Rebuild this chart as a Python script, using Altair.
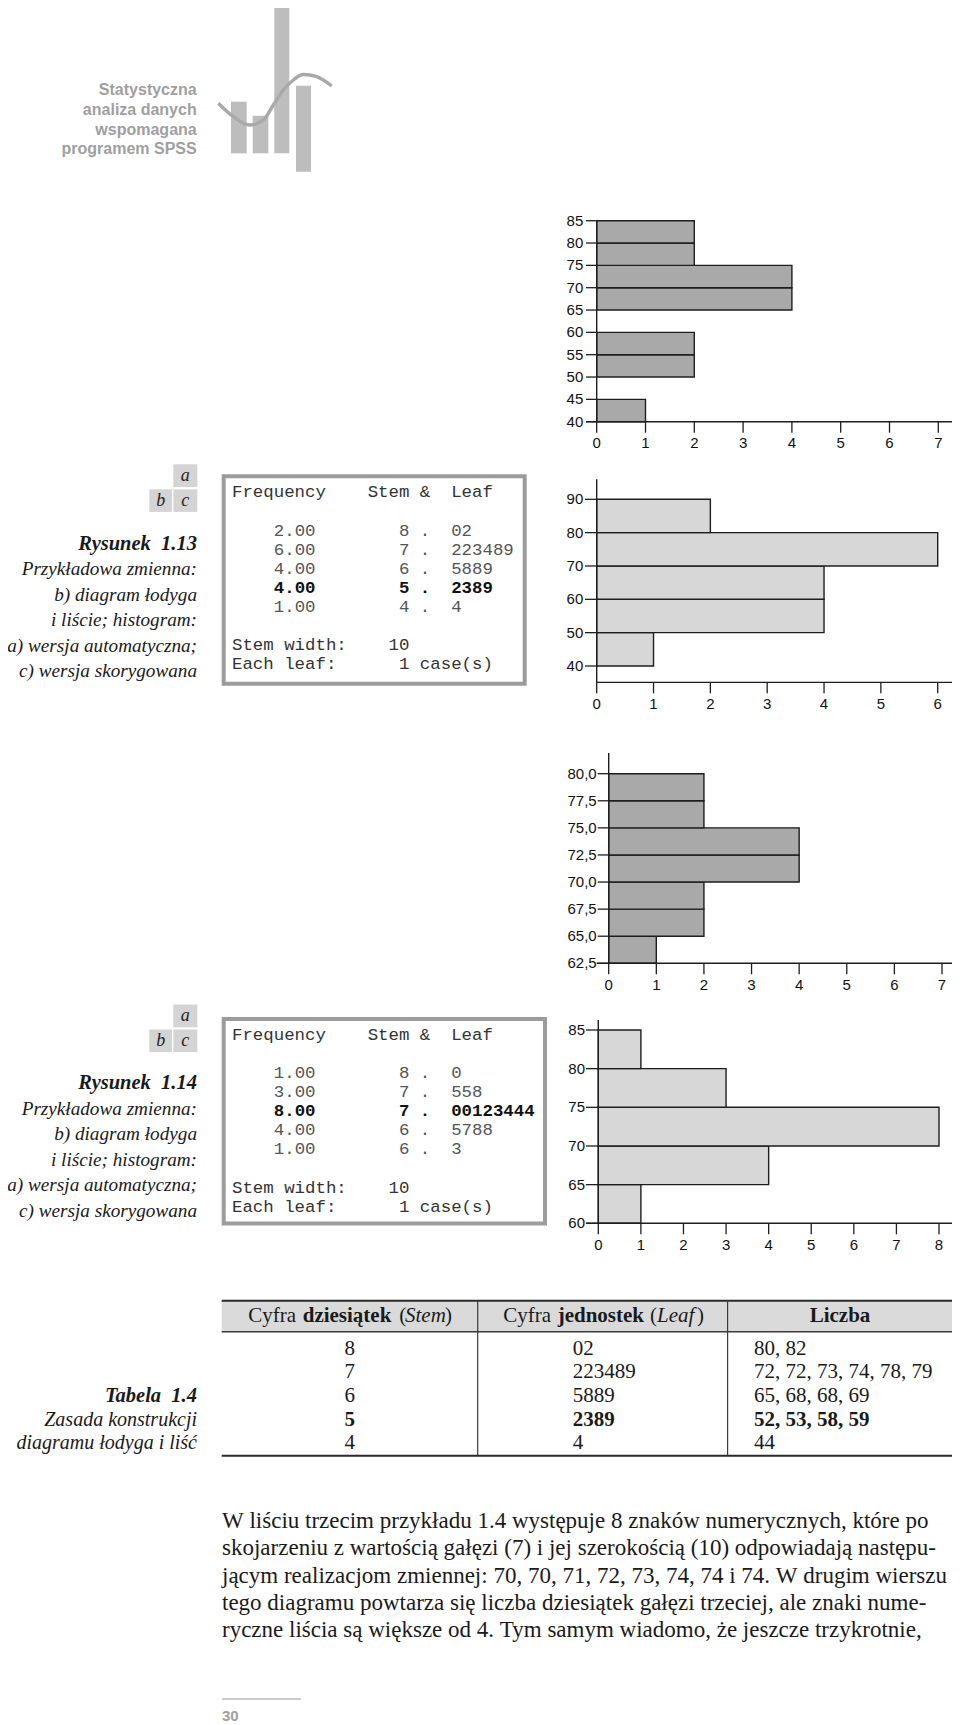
import altair as alt
import pandas as pd

NB = "\u00a0"

# ------------------------------------------------------------------ data
header_lines = ["Statystyczna", "analiza danych", "wspomagana", "programem SPSS"]

fig_caption = ["Przykładowa zmienna:", "b) diagram łodyga", "i liście; histogram:",
               "a) wersja automatyczna;", "c) wersja skorygowana"]
fig13_title = "Rysunek  1.13"
fig14_title = "Rysunek  1.14"
panel_letters = ["a", "b", "c"]

stem_header = "Frequency    Stem &  Leaf"
stem_footer = ["Stem width:    10", "Each leaf:      1 case(s)"]
f13_freq = ["2.00", "6.00", "4.00", "4.00", "1.00"]
f13_stem = ["8", "7", "6", "5", "4"]
f13_leaf = ["02", "223489", "5889", "2389", "4"]
f13_bold = [False, False, False, True, False]
f14_freq = ["1.00", "3.00", "8.00", "4.00", "1.00"]
f14_stem = ["8", "7", "7", "6", "6"]
f14_leaf = ["0", "558", "00123444", "5788", "3"]
f14_bold = [False, False, True, False, False]

# Rysunek 1.13 a) - automatic histogram
h1_lo = [40, 50, 55, 65, 70, 75, 80]
h1_hi = [45, 55, 60, 70, 75, 80, 85]
h1_n = [1, 2, 2, 4, 4, 2, 2]
h1_yticks = [40, 45, 50, 55, 60, 65, 70, 75, 80, 85]
h1_ylabels = ["40", "45", "50", "55", "60", "65", "70", "75", "80", "85"]
h1_xticks = [0, 1, 2, 3, 4, 5, 6, 7]
# Rysunek 1.13 c) - corrected histogram
h2_lo = [40, 50, 60, 70, 80]
h2_hi = [50, 60, 70, 80, 90]
h2_n = [1, 4, 4, 6, 2]
h2_yticks = [40, 50, 60, 70, 80, 90]
h2_ylabels = ["40", "50", "60", "70", "80", "90"]
h2_xticks = [0, 1, 2, 3, 4, 5, 6]
# Rysunek 1.14 a)
h3_lo = [62.5, 65.0, 67.5, 70.0, 72.5, 75.0, 77.5]
h3_hi = [65.0, 67.5, 70.0, 72.5, 75.0, 77.5, 80.0]
h3_n = [1, 2, 2, 4, 4, 2, 2]
h3_yticks = [62.5, 65.0, 67.5, 70.0, 72.5, 75.0, 77.5, 80.0]
h3_ylabels = ["62,5", "65,0", "67,5", "70,0", "72,5", "75,0", "77,5", "80,0"]
h3_xticks = [0, 1, 2, 3, 4, 5, 6, 7]
# Rysunek 1.14 c)
h4_lo = [60, 65, 70, 75, 80]
h4_hi = [65, 70, 75, 80, 85]
h4_n = [1, 4, 8, 3, 1]
h4_yticks = [60, 65, 70, 75, 80, 85]
h4_ylabels = ["60", "65", "70", "75", "80", "85"]
h4_xticks = [0, 1, 2, 3, 4, 5, 6, 7, 8]

# Tabela 1.4
table_stem = ["8", "7", "6", "5", "4"]
table_leaf = ["02", "223489", "5889", "2389", "4"]
table_num = ["80, 82", "72, 72, 73, 74, 78, 79", "65, 68, 68, 69", "52, 53, 58, 59", "44"]
table_bold = [False, False, False, True, False]
table_caption = ["Tabela  1.4", "Zasada konstrukcji", "diagramu łodyga i liść"]
hdr1 = ["Cyfra", "dziesiątek", "(", "Stem", ")"]
hdr2 = ["Cyfra", "jednostek", "(", "Leaf", ")"]
hdr3 = "Liczba"

paragraph = [
    "W liściu trzecim przykładu 1.4 występuje 8 znaków numerycznych, które po",
    "skojarzeniu z wartością gałęzi (7) i jej szerokością (10) odpowiadają następu-",
    "jącym realizacjom zmiennej: 70, 70, 71, 72, 73, 74, 74 i 74. W drugim wierszu",
    "tego diagramu powtarza się liczba dziesiątek gałęzi trzeciej, ale znaki nume-",
    "ryczne liścia są większe od 4. Tym samym wiadomo, że jeszcze trzykrotnie,",
]
page_number = "30"

# ------------------------------------------------------------------ layout (screen px)
W, H = 944, 1717
PX = alt.Scale(domain=[8, 8 + W], range=[0, W], nice=False, zero=False)
PY = alt.Scale(domain=[8, 8 + H], range=[0, H], nice=False, zero=False)
SERIF = "Liberation Serif"
SANS = "Liberation Sans"
MONO = "Liberation Mono"
INK = "#1a1a1a"


def nb(s):
    return s.replace(" ", NB)


def text_layer(xs, ys, texts, **mk):
    df = pd.DataFrame({"x": xs, "y": ys, "t": [nb(t) for t in texts]})
    props = dict(baseline="middle", align="left", font=SERIF, fontSize=20, color=INK)
    props.update(mk)
    return alt.Chart(df).mark_text(**props).encode(
        x=alt.X("x:Q", scale=PX, axis=None),
        y=alt.Y("y:Q", scale=PY, axis=None),
        text="t:N",
    )


def rect_layer(x1, y1, x2, y2, **mk):
    df = pd.DataFrame({"x": x1, "y": y1, "x2": x2, "y2": y2})
    return alt.Chart(df).mark_rect(**mk).encode(
        x=alt.X("x:Q", scale=PX, axis=None), x2="x2:Q",
        y=alt.Y("y:Q", scale=PY, axis=None), y2="y2:Q",
    )


def rule_layer(x1, y1, x2, y2, **mk):
    df = pd.DataFrame({"x": x1, "y": y1, "x2": x2, "y2": y2})
    return alt.Chart(df).mark_rule(**mk).encode(
        x=alt.X("x:Q", scale=PX, axis=None), x2="x2:Q",
        y=alt.Y("y:Q", scale=PY, axis=None), y2="y2:Q",
    )


page = []

# --- header logo
page.append(text_layer([196.7] * 4, [90, 110, 130, 149], header_lines,
                       align="right", font=SANS, fontWeight="bold", fontSize=16, color="#9f9f9f"))
page.append(rect_layer([231, 252.7, 274.3, 296], [101.7, 115.7, 0, 85.7],
                       [246.7, 268.3, 289.3, 311], [153.3, 153.3, 153.3, 171.7], fill="#bdbdbd"))
curve_x = [218.3, 233.3, 250, 263.3, 273.3, 283.3, 293.3, 303.3, 316.7, 331.7]
curve_y = [103.3, 116.7, 125, 120, 105, 90, 80, 74.5, 76.7, 86]
page.append(alt.Chart(pd.DataFrame({"x": curve_x, "y": curve_y})).mark_line(
    interpolate="monotone", stroke="#a9a9a9", strokeWidth=3.4).encode(
    x=alt.X("x:Q", scale=PX, axis=None), y=alt.Y("y:Q", scale=PY, axis=None)))

# --- panel letter squares + captions for both figures
for top, cap_y0 in [(464.3, 543.5), (1004.5, 1083)]:
    mid = top + 25
    page.append(rect_layer([173.3, 149.3, 173.3], [top, mid, mid],
                           [197.3, 172, 197.3], [top + 22.8, mid + 22.6, mid + 22.6], fill="#d4d4d4"))
    page.append(text_layer([185.3, 160.7, 185.3], [top + 11.4, mid + 11.3, mid + 11.3], panel_letters,
                           align="center", fontStyle="italic", fontSize=18, color="#222"))
    title = fig13_title if top < 800 else fig14_title
    page.append(text_layer([197], [cap_y0], [title], align="right", fontStyle="italic",
                           fontWeight="bold", fontSize=20.5))
    page.append(text_layer([197] * 5, [cap_y0 + 25.5 * (i + 1) for i in range(5)], fig_caption,
                           align="right", fontStyle="italic", fontSize=19.2))


# --- stem & leaf boxes (monospace columns)
MONO_SIZE = 17.4
CH = 0.6 * MONO_SIZE   # advance of one monospace character
HX = 232               # left text origin inside the boxes


def stem_box(x1, y1, x2, y2, ys, freq, stem, leaf, bold):
    layers = [rect_layer([x1], [y1], [x2], [y2], fill="#ffffff", stroke="#9c9c9c", strokeWidth=4)]
    rows = [f"{f}{s:>9} .  {l}" for f, s, l in zip(freq, stem, leaf)]
    rx = HX + 4 * CH
    layers.append(text_layer([HX], [ys[0]], [stem_header], font=MONO, fontSize=MONO_SIZE, color="#333"))
    reg = [i for i, b in enumerate(bold) if not b]
    bld = [i for i, b in enumerate(bold) if b]
    layers.append(text_layer([rx] * len(reg), [ys[1 + i] for i in reg], [rows[i] for i in reg],
                             font=MONO, fontSize=MONO_SIZE, color="#555"))
    layers.append(text_layer([rx] * len(bld), [ys[1 + i] for i in bld], [rows[i] for i in bld],
                             font=MONO, fontSize=MONO_SIZE, fontWeight="bold", color="#111"))
    layers.append(text_layer([HX, HX], ys[6:8], stem_footer, font=MONO, fontSize=MONO_SIZE, color="#333"))
    return layers


page += stem_box(223.7, 476.3, 524.7, 683.7,
                 [492.3, 531, 550, 569, 588, 607, 645, 664.3], f13_freq, f13_stem, f13_leaf, f13_bold)
page += stem_box(223.7, 1019, 545, 1223.6,
                 [1035, 1073, 1092, 1111, 1130, 1149, 1187.5, 1206.7], f14_freq, f14_stem, f14_leaf, f14_bold)

# --- table 1.4
TL, TR, TT, TH, TB = 221.7, 953, 1300.7, 1331.7, 1455.7
SEP1, SEP2 = 477.7, 727.6
page.append(rect_layer([TL], [TT], [TR], [TH], fill="#dadada"))
page.append(rule_layer([TL, TL], [TT, TB], [TR, TR], [TT, TB], stroke="#2a2a2a", strokeWidth=2))
page.append(rule_layer([TL], [TH], [TR], [TH], stroke="#3a3a3a", strokeWidth=1.4))
page.append(rule_layer([SEP1, SEP2], [TT, TT], [SEP1, SEP2], [TB, TB], stroke="#3a3a3a", strokeWidth=1.2))
HY = 1316
styles = [dict(), dict(fontWeight="bold"), dict(), dict(fontStyle="italic"), dict()]
hx1 = [248.3, 302.7, 399.3, 405, 445]
hx2 = [503.3, 557.7, 650, 657, 697]
for segs, xs in [(hdr1, hx1), (hdr2, hx2)]:
    for s, x, st in zip(segs, xs, styles):
        page.append(text_layer([x], [HY], [s], fontSize=21, **st))
page.append(text_layer([840], [HY], [hdr3], align="center", fontSize=21, fontWeight="bold"))
row_y = [1348.5 + 23.7 * i for i in range(5)]
for i in range(5):
    st = dict(fontWeight="bold") if table_bold[i] else dict()
    page.append(text_layer([349.7], [row_y[i]], [table_stem[i]], align="center", fontSize=21, **st))
    page.append(text_layer([572.7], [row_y[i]], [table_leaf[i]], fontSize=21, **st))
    page.append(text_layer([754], [row_y[i]], [table_num[i]], fontSize=21, **st))
page.append(text_layer([197], [row_y[2]], [table_caption[0]], align="right", fontStyle="italic",
                       fontWeight="bold", fontSize=20.5))
page.append(text_layer([197, 197], row_y[3:5], table_caption[1:], align="right", fontStyle="italic",
                       fontSize=20))

# --- paragraph + footer
page.append(text_layer([222] * 5, [1521 + 27.3 * i for i in range(5)], paragraph, fontSize=23))
page.append(rule_layer([222], [1699], [301], [1699], stroke="#9a9a9a", strokeWidth=1.2))
page.append(text_layer([222], [1716], [page_number], font=SANS, fontWeight="bold", fontSize=15,
                       color="#a0a0a0"))

page_layer = alt.layer(*page)


# ------------------------------------------------------------------ histograms
def histogram(lo, hi, n, yticks, ylabels, xticks, fill, sx, sy, y_axis, x_axis_y,
              x_ext, ytick_len, ylab_gap):
    xs = alt.Scale(domain=[xticks[0], xticks[-1]], range=[sx[0] - 8, sx[1] - 8], nice=False, zero=False)
    ys = alt.Scale(domain=[yticks[0], yticks[-1]], range=[sy[0] - 8, sy[1] - 8], nice=False, zero=False)

    def X(f):
        return alt.X(f, scale=xs, axis=None)

    def Y(f):
        return alt.Y(f, scale=ys, axis=None)

    bars = alt.Chart(pd.DataFrame({"lo": lo, "hi": hi, "n": n, "z": [0] * len(n)})).mark_rect(
        fill=fill, stroke="#1e1e1e", strokeWidth=1.4).encode(x=X("z:Q"), x2="n:Q", y=Y("lo:Q"), y2="hi:Q")
    yaxis = alt.Chart(pd.DataFrame({"z": [0], "a": [y_axis[0]], "b": [y_axis[1]]})).mark_rule(
        stroke="#1e1e1e", strokeWidth=1.4).encode(x=X("z:Q"), y=Y("a:Q"), y2="b:Q")
    yt_df = pd.DataFrame({"v": yticks, "z": [0] * len(yticks), "t": ylabels})
    yt = alt.Chart(yt_df).mark_rule(stroke="#1e1e1e", strokeWidth=1.3, xOffset=-ytick_len).encode(
        x=X("z:Q"), x2="z:Q", y=Y("v:Q"))
    yl = alt.Chart(yt_df).mark_text(align="right", baseline="middle", dx=-ylab_gap, font=SANS,
                                    fontSize=15, color="#111").encode(x=X("z:Q"), y=Y("v:Q"), text="t:N")
    xaxis = alt.Chart(pd.DataFrame({"a": [xticks[0]], "b": [xticks[-1]], "v": [x_axis_y]})).mark_rule(
        stroke="#1e1e1e", strokeWidth=1.4, xOffset=-x_ext[0], x2Offset=x_ext[1]).encode(
        x=X("a:Q"), x2="b:Q", y=Y("v:Q"))
    xt_df = pd.DataFrame({"v": xticks, "ya": [x_axis_y] * len(xticks), "t": [str(t) for t in xticks]})
    xt = alt.Chart(xt_df).mark_rule(stroke="#1e1e1e", strokeWidth=1.3, y2Offset=11).encode(
        x=X("v:Q"), y=Y("ya:Q"), y2="ya:Q")
    xl = alt.Chart(xt_df).mark_text(align="center", baseline="middle", dy=21.7, font=SANS,
                                    fontSize=15, color="#111").encode(x=X("v:Q"), y=Y("ya:Q"), text="t:N")
    return alt.layer(bars, yaxis, yt, yl, xaxis, xt, xl)


DARK, LIGHT = "#a9a9a9", "#d7d7d7"
hist1 = histogram(h1_lo, h1_hi, h1_n, h1_yticks, h1_ylabels, h1_xticks, DARK,
                  (596.7, 938.3), (421.7, 220.7), (40, 85), 40, (10.7, 16.7), 10.7, 13.4)
hist2 = histogram(h2_lo, h2_hi, h2_n, h2_yticks, h2_ylabels, h2_xticks, LIGHT,
                  (596.7, 937.7), (666, 499.3), (35.1, 96), 35.1, (0, 17.3), 11.7, 13.4)
hist3 = histogram(h3_lo, h3_hi, h3_n, h3_yticks, h3_ylabels, h3_xticks, DARK,
                  (608.7, 942), (963.3, 773.7), (62.5, 81.9), 62.5, (12, 16.3), 11, 12)
hist4 = histogram(h4_lo, h4_hi, h4_n, h4_yticks, h4_ylabels, h4_xticks, LIGHT,
                  (598.3, 939), (1223.3, 1030), (60, 86.3), 60, (12.3, 17.7), 12.3, 13.3)

chart = alt.layer(page_layer, hist1, hist2, hist3, hist4).resolve_scale(
    x="independent", y="independent"
).properties(
    width=W, height=H, autosize=alt.AutoSizeParams(type="none"), padding=0,
    background="#ffffff",
).configure_view(stroke=None)

chart.save("out.html", embed_options={"renderer": "svg", "actions": False})
